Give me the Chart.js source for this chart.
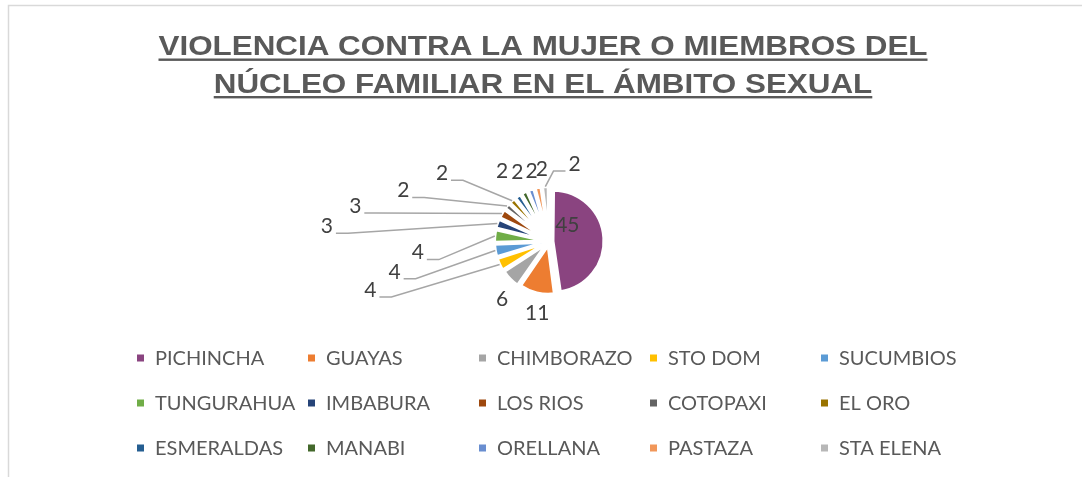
<!DOCTYPE html>
<html>
<head>
<meta charset="utf-8">
<script src="https://cdn.jsdelivr.net/npm/chart.js@4.4.1/dist/chart.umd.min.js"></script>
<style>
  body { margin: 0; background: #fff; }
  #wrap { position: relative; width: 1082px; height: 477px; }
</style>
</head>
<body>
<div id="wrap"><canvas id="myChart" width="1082" height="477"></canvas></div>
<script>
// data ..................
const provincias = ["PICHINCHA", "GUAYAS", "CHIMBORAZO", "STO DOM", "SUCUMBIOS",
  "TUNGURAHUA", "IMBABURA", "LOS RIOS", "COTOPAXI", "EL ORO",
  "ESMERALDAS", "MANABI", "ORELLANA", "PASTAZA", "STA ELENA"];
const casos = [45, 11, 6, 4, 4, 4, 3, 3, 2, 2, 2, 2, 2, 2, 2];
const tituloLineas = ["VIOLENCIA CONTRA LA MUJER O MIEMBROS DEL", "NÚCLEO FAMILIAR EN EL ÁMBITO SEXUAL"];

const sliceColors = ["#8a4480", "#ed7d31", "#a5a5a5", "#ffc000", "#5b9bd5",
  "#70ad47", "#264478", "#9e480e", "#636363", "#997300",
  "#255e91", "#43682b", "#698ed0", "#f1975a", "#b7b7b7"];

// where each value label sits (relative to pie centre, in radius units)
const labelSpots = [
  [0.36, -0.32], [-0.24, 1.46], [-0.94, 1.16], [-3.54, 0.96], [-3.06, 0.6],
  [-2.6, 0.22], [-4.38, -0.3], [-3.82, -0.7], [-2.86, -1.0], [-2.1, -1.34],
  [-0.92, -1.38], [-0.62, -1.36], [-0.34, -1.38], [-0.14, -1.42], [0.5, -1.52]
];
const withLeader = [3, 4, 5, 6, 7, 8, 9, 14];

// frame + underlined title ..................
const titlePlugin = {
  id: "titlePlugin",
  beforeDraw(chart) {
    const ctx = chart.ctx;
    ctx.save();
    ctx.strokeStyle = "#d9d9d9";
    ctx.lineWidth = 1.5;
    ctx.strokeRect(8.5, 5.5, 1200, 600);

    ctx.font = 'bold 28px "Liberation Sans", Arial, sans-serif';
    ctx.fillStyle = "#595959";
    ctx.textAlign = "left";
    ctx.textBaseline = "alphabetic";
    const cx = 543;
    const baselines = [55, 92.5];
    // the title in the original is stretched a bit wider than plain Arial
    const stretch = 769 / ctx.measureText(tituloLineas[0]).width;
    tituloLineas.forEach((line, i) => {
      const w = ctx.measureText(line).width * stretch;
      const x = cx - w / 2;
      ctx.save();
      ctx.translate(x, baselines[i]);
      ctx.scale(stretch, 1);
      ctx.fillText(line, 0, 0);
      ctx.restore();
      ctx.fillRect(x, baselines[i] + 3.5, w, 2.4);
    });
    ctx.restore();
  }
};

// value labels with leader lines ..................
const labelPlugin = {
  id: "labelPlugin",
  afterDatasetsDraw(chart) {
    const ctx = chart.ctx;
    const meta = chart.getDatasetMeta(0);
    ctx.save();
    ctx.font = '21px Lato, "Noto Sans", sans-serif';
    ctx.fillStyle = "#404040";
    ctx.textAlign = "center";
    ctx.textBaseline = "middle";
    meta.data.forEach((arc, i) => {
      const p = arc.getProps(["x", "y", "startAngle", "endAngle", "outerRadius", "circumference"], true);
      const off = (arc.options.offset || 0) / 4;
      const fix = 1 - Math.sin(Math.min(Math.PI, p.circumference));
      const drawnR = p.outerRadius + off * fix;
      const lx = p.x + labelSpots[i][0] * drawnR;
      const ly = p.y + labelSpots[i][1] * drawnR;
      ctx.fillText(String(casos[i]), lx, ly);

      if (withLeader.includes(i)) {
        const mid = (p.startAngle + p.endAngle) / 2;
        const ex = p.x + Math.cos(mid) * (drawnR + off);
        const ey = p.y + Math.sin(mid) * (drawnR + off);
        const dir = lx < ex ? 1 : -1;
        ctx.beginPath();
        ctx.strokeStyle = "#a6a6a6";
        ctx.lineWidth = 1.5;
        ctx.moveTo(lx + dir * 9, ly + 7);
        ctx.lineTo(lx + dir * 21, ly + 7);
        ctx.lineTo(ex, ey);
        ctx.stroke();
      }
    });
    ctx.restore();
  }
};

// legend in 5 columns ..................
const legendPlugin = {
  id: "legendPlugin",
  afterDraw(chart) {
    const ctx = chart.ctx;
    ctx.save();
    ctx.font = '20px Lato, "Noto Sans", sans-serif';
    ctx.textAlign = "left";
    ctx.textBaseline = "middle";
    const colX = 137, colStep = 171;
    const rowY = [358, 403, 448];
    chart.data.labels.forEach((name, i) => {
      const x = colX + (i % 5) * colStep;
      const y = rowY[Math.floor(i / 5)];
      ctx.fillStyle = chart.data.datasets[0].backgroundColor[i];
      ctx.fillRect(x, y - 3.5, 7, 7);
      ctx.fillStyle = "#595959";
      ctx.fillText(name, x + 18, y + 1);
    });
    ctx.restore();
  }
};

new Chart(document.getElementById("myChart"), {
  type: "pie",
  data: {
    labels: provincias,
    datasets: [{
      data: casos,
      backgroundColor: sliceColors,
      borderColor: "#ffffff",
      borderWidth: 3,
      offset: 16,
      radius: 47.5
    }]
  },
  options: {
    responsive: false,
    animation: false,
    layout: { padding: { left: 16, right: 0, top: 152, bottom: 146 } },
    plugins: {
      legend: { display: false },
      title: { display: false },
      tooltip: { enabled: false }
    }
  },
  plugins: [titlePlugin, labelPlugin, legendPlugin]
});
</script>
</body>
</html>
